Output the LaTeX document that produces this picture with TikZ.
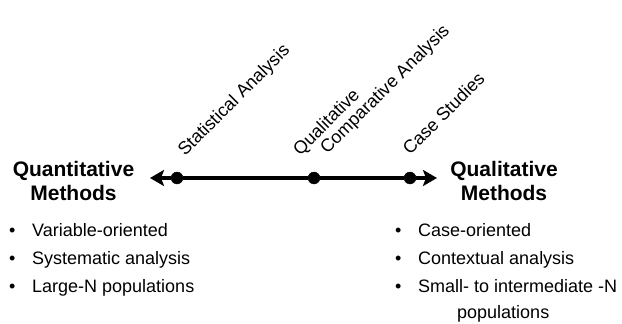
\documentclass[tikz,border=0pt]{standalone}
\usepackage{fontspec}
\setmainfont{Liberation Sans}
\usetikzlibrary{arrows.meta}
\begin{document}
\begin{tikzpicture}[x=1pt, y=1pt,
    dot/.style = {draw, circle, fill, inner sep=0pt, minimum size=12pt},
    axis/.style = {line width=3.5pt},
    tip/.style = {-{Stealth[length=14pt, width=16pt, inset=3pt]}},
    head/.style = {font=\fontsize{21}{24}\selectfont\bfseries, align=center, anchor=base},
    item/.style = {font=\fontsize{18}{21}\selectfont, anchor=base west, inner sep=0pt},
    slant/.style = {font=\fontsize{18}{18}\selectfont, rotate=45, anchor=base west, inner sep=0pt, align=left}]
  \useasboundingbox (0,0) rectangle (622,324);

  \node[dot] (1) at (177,146) {};
  \node[dot] (2) at (314,146) {};
  \node[dot] (3) at (410,146) {};
  \coordinate (l) at (150,146);
  \coordinate (r) at (437,146);

  \draw[axis] (1) -- (2);
  \draw[axis] (2) -- (3);
  \draw[axis, tip] (1) -- (l);
  \draw[axis, tip] (3) -- (r);

  \node[head] (quant) at (73.5,123) {Quantitative\\Methods};
  \node[head] (qual) at (504,123) {Qualitative\\Methods};

  \node[slant] (stat) at (185,167) {Statistical Analysis};
  \node[slant] (qca) at (313,155) {Qualitative\\\hspace*{20pt}Comparative Analysis};
  \node[slant] (case) at (410,168) {Case Studies};

  \foreach \t/\y in {Variable-oriented/87, Systematic analysis/59, Large-N populations/31} {
    \node[item] at (9,\y) {•};
    \node[item] at (32,\y) {\t};
  }
  \foreach \t/\y in {Case-oriented/87, Contextual analysis/59, Small- to intermediate -N/31} {
    \node[item] at (395,\y) {•};
    \node[item] at (418,\y) {\t};
  }
  \node[item] (pop) at (457,5) {populations};
\end{tikzpicture}
\end{document}
